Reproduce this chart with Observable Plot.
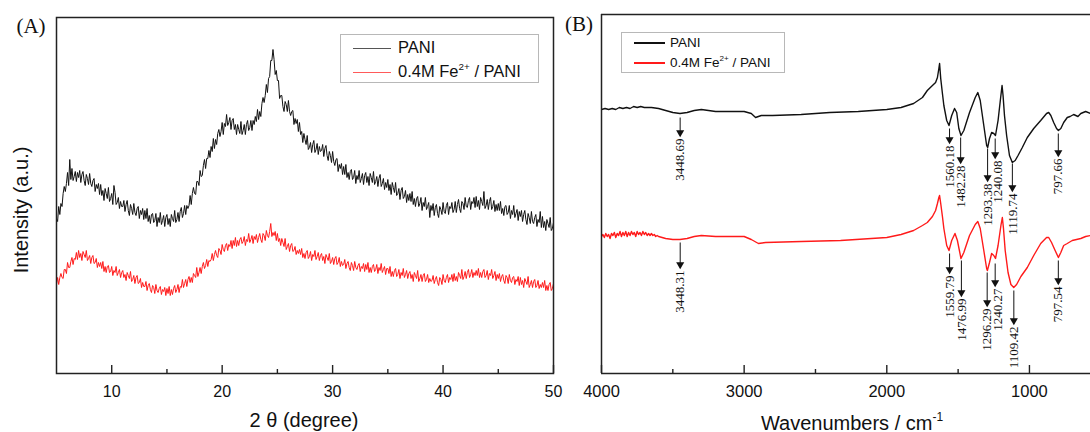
<!DOCTYPE html>
<html>
<head>
<meta charset="utf-8">
<script src="https://cdn.jsdelivr.net/npm/d3@7"></script>
<script src="https://cdn.jsdelivr.net/npm/@observablehq/plot@0.6"></script>
<style>
  html, body { margin: 0; padding: 0; background: #fff; overflow: hidden; }
  #wrap { position: relative; width: 1090px; height: 432px; font-family: "Liberation Sans", Arial, sans-serif; color: #111; }
  .panel { position: absolute; top: 0; }
  .abs { position: absolute; white-space: nowrap; transform: translate(-50%, -50%); }
  .tag { font-family: "Liberation Serif", "Times New Roman", serif; font-size: 21px; }
  .legend { position: absolute; background: #fff; border: 1px solid #b8b8b8; box-sizing: border-box; }
  .row { position: absolute; white-space: nowrap; transform: translateY(-50%); line-height: 1.2; }
  sup { font-size: 0.6em; vertical-align: 0.7em; line-height: 0; }
</style>
</head>
<body>
<div id="wrap">
  <div id="pa" class="panel" style="left:0px"></div>
  <div id="pb" class="panel" style="left:560px"></div>
</div>
<script>
// ---------- Panel A: XRD (2θ from 5° to 50°, sampled every 0.1°) ----------
const xrdRange = [5, 50];
const xrdIntensityDomain = [0, 356];
const xrdMajorTicks = [10, 20, 30, 40, 50];
const xrdMinorTicks = [15, 25, 35, 45];
const xrdPani = [
155,152,167,159,170,167,180,187,182,190,201,188,214,194,205,193,197,202,192,201,
196,203,191,199,202,193,188,199,195,189,200,190,187,193,195,182,189,185,190,179,
189,178,183,173,185,180,175,186,172,175,180,169,188,181,169,171,176,165,172,167,
167,173,162,169,173,163,158,169,165,159,170,161,158,165,167,155,163,159,165,154,
163,155,165,152,158,150,159,160,151,153,160,147,156,151,161,149,153,158,147,156,
159,149,155,147,159,155,152,163,151,154,161,152,162,166,156,160,168,159,168,165,
168,178,169,180,186,180,179,192,192,188,203,197,198,208,214,205,215,215,223,216,
227,222,235,225,234,229,240,244,237,242,251,239,250,247,259,248,251,256,244,253,
255,244,249,239,249,244,240,252,239,243,249,239,249,253,243,246,253,243,253,249,
257,252,264,254,262,257,270,276,271,278,289,281,295,297,313,313,324,314,299,303,
293,293,275,278,278,267,262,272,269,262,273,262,258,262,263,249,255,250,254,242,
251,239,242,231,240,234,229,238,224,226,231,221,229,233,221,224,230,219,227,222,
223,229,217,225,228,218,213,222,218,211,222,212,208,214,215,202,209,205,210,199,
207,199,209,196,201,194,202,204,194,196,203,190,198,194,203,191,195,200,189,198,
201,191,197,188,200,196,191,202,189,192,197,187,195,199,187,190,195,184,191,186,
194,183,189,179,191,186,181,191,178,180,185,174,183,186,175,177,183,171,179,173,
180,172,182,169,175,167,175,177,167,170,176,163,171,167,176,164,167,171,156,168,
163,170,158,166,169,160,156,167,164,159,171,162,160,168,171,159,167,165,171,161,
164,172,161,169,174,165,161,172,170,164,176,167,166,173,176,164,172,170,176,166,
177,167,173,164,176,172,168,182,165,168,174,164,172,176,164,167,173,162,169,163,
170,163,172,160,165,158,167,168,159,161,168,155,163,159,168,156,160,164,153,162,
157,163,152,159,163,154,149,160,156,150,162,152,150,156,159,147,154,151,162,146,
157,146,152,143,154,150,146,156,143,145,151];
const xrdFe = [
89,96,89,96,100,96,95,104,104,100,111,106,106,112,116,109,115,114,121,114,
123,116,120,113,122,119,116,123,113,115,118,110,116,118,110,111,115,106,111,107,
111,105,112,102,107,101,107,108,101,102,107,98,103,101,107,98,101,104,96,101,
103,96,99,93,101,98,95,102,92,94,98,90,96,98,90,91,95,86,91,87,
87,92,83,88,90,84,81,88,86,80,89,83,81,85,87,79,84,82,86,78,
85,80,87,78,84,79,85,88,81,84,89,81,87,86,94,86,90,94,87,94,
97,91,96,91,100,98,96,106,97,101,106,100,107,111,105,108,114,107,113,112,
114,120,113,119,123,118,116,125,123,119,129,124,122,128,130,123,129,127,133,125,
133,128,136,127,133,128,134,136,130,132,137,128,134,132,140,131,134,138,130,137,
134,139,131,136,140,134,131,140,138,133,143,138,136,142,150,137,141,138,142,133,
140,132,135,128,135,131,127,135,124,127,130,122,128,130,122,123,127,119,123,120,
124,119,125,116,120,115,121,123,115,117,122,113,119,117,123,114,117,121,113,118,
120,113,117,110,119,116,113,120,110,112,116,109,115,117,109,111,116,107,112,108,
109,114,105,110,112,106,103,111,108,103,112,106,104,108,110,102,107,105,110,102,
109,104,111,101,106,101,107,109,102,104,109,100,106,103,110,101,104,107,99,105,
105,100,107,97,102,97,103,105,97,99,104,95,101,98,105,96,99,103,95,100,
102,95,99,92,101,98,95,103,92,95,99,92,98,100,92,94,99,91,95,92,
93,98,90,94,97,91,88,96,94,89,99,93,91,96,99,91,96,94,99,92,
100,93,97,92,101,98,95,104,94,97,102,95,101,104,96,99,104,96,101,98,
103,98,105,96,101,96,102,104,96,98,103,94,100,98,104,95,98,102,93,99,
95,100,92,97,99,93,90,98,96,90,99,93,91,96,97,89,94,92,97,88,
96,89,93,86,95,92,89,97,86,89,93,86,92,94,86,88,93,85,89,86,
91,86,93,83,88,83,89,91,83,85,90];

// ---------- Panel B: FTIR ([wavenumber, transmittance a.u.]) ----------
const ftirXDomain = [4000, 572];
const ftirYDomain = [0, 359];
const ftirMajorTicks = [4000, 3000, 2000, 1000];
const ftirMinorTicks = [3500, 2500, 1500];
const ftirPani = [[4000,264],[3975,265],[3950,264],[3925,265],[3900,264],[3875,266],[3850,265],[3825,266],[3800,265],[3775,267],[3750,266],[3725,267],[3700,266],[3650,266],[3600,265],[3550,263],[3500,261],[3450,260],[3400,261],[3350,263],[3300,264],[3250,263],[3200,262],[3100,262],[3000,262],[2950,260],[2920,256],[2880,258],[2800,258],[2600,259],[2400,261],[2200,262],[2000,264],[1900,266],[1812,270],[1750,276],[1716,283],[1680,288],[1658,291],[1645,296],[1635,305],[1630,310],[1622,295],[1610,280],[1600,268],[1580,253],[1564,248],[1545,258],[1525,265],[1510,261],[1495,245],[1480,238],[1460,243],[1420,261],[1380,276],[1362,281],[1345,273],[1320,248],[1300,228],[1293,226],[1280,235],[1265,241],[1250,240],[1238,238],[1220,253],[1205,272],[1192,288],[1185,278],[1175,258],[1160,238],[1140,218],[1120,211],[1100,213],[1080,218],[1050,226],[1015,236],[970,245],[921,253],[880,260],[865,261],[850,258],[830,251],[810,245],[797,243],[780,245],[760,251],[735,256],[715,257],[690,259],[660,257],[640,260],[606,262],[572,260]];
const ftirFe = [[4000,137],[3990,139],[3980,136],[3970,140],[3960,137],[3950,139],[3940,135],[3930,140],[3920,138],[3910,141],[3900,136],[3890,140],[3880,138],[3870,142],[3860,137],[3850,141],[3840,138],[3830,142],[3820,137],[3810,141],[3800,138],[3790,142],[3780,139],[3770,141],[3760,137],[3750,142],[3740,139],[3730,141],[3720,138],[3710,142],[3700,139],[3690,141],[3680,138],[3670,140],[3660,138],[3650,140],[3640,138],[3630,139],[3620,137],[3610,138],[3600,137],[3550,135],[3500,134],[3450,134],[3400,135],[3350,137],[3300,138],[3200,137],[3100,137],[3000,137],[2950,134],[2900,130],[2850,131],[2600,132],[2324,133],[2000,136],[1900,139],[1812,143],[1750,148],[1716,151],[1680,157],[1658,163],[1645,170],[1635,176],[1630,178],[1622,170],[1610,157],[1600,145],[1580,128],[1564,123],[1545,133],[1522,140],[1505,133],[1480,115],[1460,121],[1420,138],[1380,149],[1362,152],[1345,145],[1320,123],[1300,105],[1295,103],[1280,111],[1265,120],[1250,118],[1238,115],[1220,128],[1200,148],[1190,156],[1182,145],[1170,123],[1150,101],[1130,89],[1110,86],[1090,89],[1060,97],[1015,106],[970,118],[921,130],[880,136],[865,136],[845,131],[820,123],[797,116],[780,121],[760,128],[735,130],[700,133],[670,134],[640,135],[606,137],[572,138]];

// Peak annotations: wavenumber, label, arrow start and arrow tip (a.u.)
const peakWn = [3448.69, 1560.18, 1482.28, 1293.38, 1240.08, 1119.74, 797.66,
                3448.31, 1559.79, 1476.99, 1296.29, 1240.27, 1109.42, 797.54];
const peakLabel = ["3448.69","1560.18","1482.28","1293.38","1240.08","1119.74","797.66",
                   "3448.31","1559.79","1476.99","1296.29","1240.27","1109.42","797.54"];
const peakFrom = [256, 245, 236, 225, 235, 210, 240, 131, 120, 113, 101, 110, 83, 113];
const peakTo   = [238, 231, 211, 193, 216, 183, 218, 106, 101, 78, 68, 88, 50, 90];

const seriesNames = ["PANI", "0.4M Fe2+ / PANI"];
const colors = ["#111111", "#ff1a1a"];

// ---------- build tables ----------
const toXrd = arr => arr.map((v, i) => ({theta: xrdRange[0] + i * (xrdRange[1] - xrdRange[0]) / (arr.length - 1), I: v}));
const xrdA = toXrd(xrdPani), xrdB = toXrd(xrdFe);
const toFt = arr => arr.map(([w, t]) => ({wn: w, T: t}));
const ftA = toFt(ftirPani), ftB = toFt(ftirFe);
const peaks = peakWn.map((w, i) => ({wn: w, label: peakLabel[i], from: peakFrom[i], to: peakTo[i]}));
const isShifted = d => d.label.startsWith("1240");

const sans = "'Liberation Sans', Arial, sans-serif";
const serif = "'Liberation Serif', 'Times New Roman', serif";

const A = {width: 560, height: 432, ml: 56, mr: 7, mt: 17, mb: 59};
const innerA = A.height - A.mt - A.mb;
const plotA = Plot.plot({
  width: A.width, height: A.height,
  marginLeft: A.ml, marginRight: A.mr, marginTop: A.mt, marginBottom: A.mb,
  x: {domain: xrdRange},
  y: {domain: xrdIntensityDomain, axis: null},
  style: {fontFamily: sans, fontSize: "16px", color: "#111", background: "transparent", overflow: "visible"},
  marks: [
    Plot.line(xrdA, {x: "theta", y: "I", stroke: colors[0], strokeWidth: 1}),
    Plot.line(xrdB, {x: "theta", y: "I", stroke: colors[1], strokeWidth: 1}),
    Plot.frame({stroke: "#222", strokeWidth: 1.5}),
    Plot.tickX(xrdMajorTicks, {x: d => d, insetTop: innerA - 8, stroke: "#222", strokeWidth: 1.4}),
    Plot.tickX(xrdMinorTicks, {x: d => d, insetTop: innerA - 4, stroke: "#222", strokeWidth: 1.4}),
    Plot.axisX(xrdMajorTicks, {tickSize: 0, tickPadding: 12, label: null, fontSize: 16, tickFormat: "d"})
  ]
});
document.getElementById("pa").appendChild(plotA);

const B = {width: 530, height: 432, ml: 41, mr: 0, mt: 14, mb: 59};
const innerB = B.height - B.mt - B.mb;
const plotB = Plot.plot({
  width: B.width, height: B.height,
  marginLeft: B.ml, marginRight: B.mr, marginTop: B.mt, marginBottom: B.mb,
  x: {domain: ftirXDomain},
  y: {domain: ftirYDomain, axis: null},
  style: {fontFamily: sans, fontSize: "16px", color: "#111", background: "transparent", overflow: "visible"},
  marks: [
    Plot.line(ftA, {x: "wn", y: "T", stroke: colors[0], strokeWidth: 1.4, clip: true}),
    Plot.line(ftB, {x: "wn", y: "T", stroke: colors[1], strokeWidth: 1.4, clip: true}),
    Plot.link(peaks, {x1: "wn", x2: "wn", y1: "from", y2: "to", stroke: "#111", strokeWidth: 1}),
    Plot.dot(peaks, {x: "wn", y: "to", symbol: "triangle", rotate: 180, r: 3, fill: "#111", stroke: "none", dy: -3}),
    Plot.text(peaks.filter(d => !isShifted(d)), {x: "wn", y: "to", text: "label", rotate: -90, textAnchor: "end", dy: 3, fontFamily: serif, fontSize: 13, fill: "#111"}),
    Plot.text(peaks.filter(isShifted), {x: "wn", y: "to", text: "label", rotate: -90, textAnchor: "end", dy: 3, dx: 2.5, fontFamily: serif, fontSize: 13, fill: "#111"}),
    Plot.ruleY([ftirYDomain[0], ftirYDomain[1]], {stroke: "#222", strokeWidth: 1.5}),
    Plot.ruleX([ftirXDomain[0]], {stroke: "#222", strokeWidth: 1.5}),
    Plot.tickX(ftirMajorTicks, {x: d => d, insetTop: innerB - 8, stroke: "#222", strokeWidth: 1.4}),
    Plot.tickX(ftirMinorTicks, {x: d => d, insetTop: innerB - 4, stroke: "#222", strokeWidth: 1.4}),
    Plot.axisX(ftirMajorTicks, {tickSize: 0, tickPadding: 12, label: null, fontSize: 16.5, tickFormat: "d"})
  ]
});
document.getElementById("pb").appendChild(plotB);

// ---------- text overlays: panel tags, axis titles, legends ----------
const wrap = document.getElementById("wrap");
function addText(html, x, y, cls, style) {
  const d = document.createElement("div");
  d.className = "abs " + (cls || "");
  d.style.left = x + "px"; d.style.top = y + "px";
  if (style) d.style.cssText += style;
  d.innerHTML = html;
  wrap.appendChild(d);
  return d;
}
addText("(A)", 31, 26, "tag");
addText("(B)", 579, 24, "tag");
addText("Intensity (a.u.)", 21, 210, "", "font-size:20px;transform:translate(-50%,-50%) rotate(-90deg);");
addText("2 θ (degree)", 304, 420, "", "font-size:20px;");
addText("Wavenumbers / cm<sup>-1</sup>", 852, 423, "", "font-size:20px;");

function legend(x, y, w, h, rows, fs, lineX, lineW, textX, lw) {
  const box = document.createElement("div");
  box.className = "legend";
  Object.assign(box.style, {left: x + "px", top: y + "px", width: w + "px", height: h + "px"});
  wrap.appendChild(box);
  rows.forEach(r => {
    const sw = document.createElement("div");
    Object.assign(sw.style, {position: "absolute", left: lineX + "px", top: (r.y - lw / 2) + "px", width: lineW + "px", height: lw + "px", background: r.color});
    wrap.appendChild(sw);
    const t = document.createElement("div");
    t.className = "row";
    Object.assign(t.style, {left: textX + "px", top: r.y + "px", fontSize: fs + "px"});
    t.innerHTML = r.html;
    wrap.appendChild(t);
  });
}
const legendHtml = ["PANI", "0.4M Fe<sup>2+</sup> / PANI"];
legend(340, 34, 199, 49, [{y: 48, color: "#555", html: legendHtml[0]}, {y: 72, color: "#ff5a5a", html: legendHtml[1]}], 16.5, 353, 38, 398, 1);
legend(621, 32, 164, 41, [{y: 43, color: colors[0], html: legendHtml[0]}, {y: 63, color: colors[1], html: legendHtml[1]}], 13.5, 634, 31, 670, 1.8);
</script>
</body>
</html>
